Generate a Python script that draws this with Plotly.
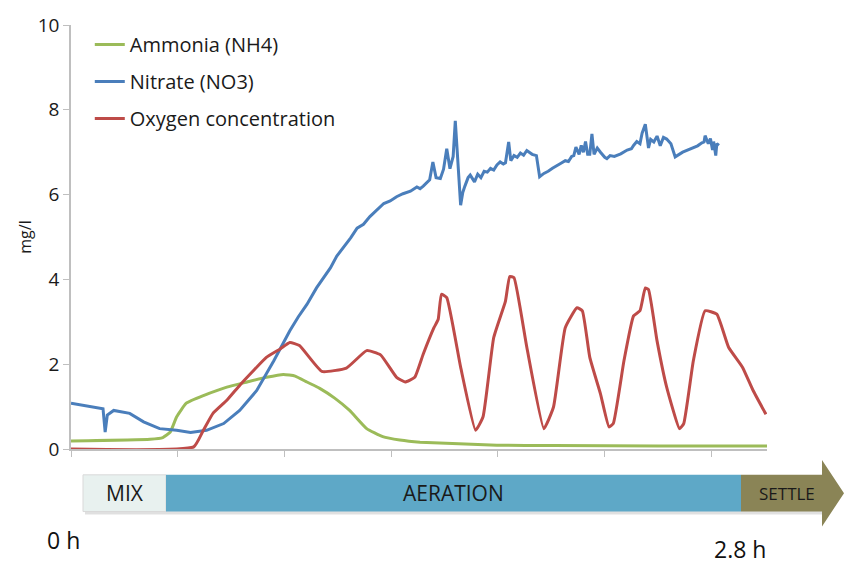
import plotly.graph_objects as go

# ---- data (x in axis-tick units, y in mg/l) ----
nh4_t = [0.00, 0.74, 0.86, 0.93, 0.99, 1.08, 1.24, 1.46, 1.65, 1.83, 1.99, 2.10, 2.21, 2.33, 2.47,
         2.61, 2.77, 2.92, 3.08, 3.27, 3.99, 4.52, 5.50, 6.52]
nh4_v = [0.19, 0.23, 0.27, 0.40, 0.76, 1.08, 1.26, 1.46, 1.58, 1.69, 1.76, 1.72, 1.58, 1.43, 1.20,
         0.91, 0.48, 0.29, 0.21, 0.16, 0.09, 0.08, 0.07, 0.07]

no3_t = [0.00, 0.30, 0.32, 0.34, 0.40, 0.55, 0.68, 0.83, 0.99, 1.12, 1.27, 1.43, 1.58, 1.74, 1.90,
         2.05, 2.13, 2.21, 2.30, 2.37, 2.43, 2.49, 2.55, 2.62, 2.68, 2.74, 2.80, 2.86, 2.93, 2.99,
         3.05, 3.11, 3.18, 3.24, 3.27, 3.30, 3.33, 3.36, 3.39, 3.42, 3.46, 3.49, 3.52, 3.55, 3.58,
         3.60, 3.65, 3.67, 3.69, 3.72, 3.74, 3.78, 3.81, 3.84, 3.87, 3.90, 3.93, 3.96, 3.99, 4.02,
         4.05, 4.07, 4.10, 4.12, 4.15, 4.18, 4.21, 4.24, 4.27, 4.30, 4.32, 4.36, 4.39, 4.43, 4.47,
         4.51, 4.55, 4.59, 4.63, 4.66, 4.69, 4.71, 4.73, 4.76, 4.78, 4.80, 4.82, 4.84, 4.86, 4.88,
         4.90, 4.93, 4.96, 5.00, 5.02, 5.05, 5.09, 5.15, 5.21, 5.25, 5.27, 5.30, 5.33, 5.35, 5.38,
         5.41, 5.43, 5.46, 5.49, 5.52, 5.55, 5.58, 5.62, 5.66, 5.73, 5.80, 5.87, 5.91, 5.93, 5.94,
         5.97, 5.99, 6.01, 6.02, 6.04, 6.05, 6.07]
no3_v = [1.08, 0.95, 0.40, 0.80, 0.91, 0.84, 0.64, 0.48, 0.44, 0.39, 0.44, 0.60, 0.91, 1.38, 2.08,
         2.79, 3.12, 3.41, 3.80, 4.05, 4.27, 4.55, 4.74, 4.98, 5.21, 5.30, 5.48, 5.62, 5.79, 5.85,
         5.95, 6.02, 6.08, 6.18, 6.14, 6.20, 6.28, 6.35, 6.77, 6.40, 6.38, 6.60, 7.08, 6.61, 6.90,
         7.74, 5.75, 6.05, 6.20, 6.40, 6.46, 6.30, 6.48, 6.40, 6.55, 6.53, 6.62, 6.58, 6.70, 6.77,
         6.72, 6.75, 7.24, 6.80, 6.92, 6.88, 6.98, 6.93, 7.04, 6.98, 6.95, 6.92, 6.42, 6.50, 6.55,
         6.62, 6.69, 6.74, 6.80, 6.78, 6.90, 6.92, 7.12, 6.95, 7.16, 7.00, 7.25, 6.95, 6.95, 7.43,
         6.95, 7.10, 7.00, 6.88, 6.85, 6.92, 6.90, 6.96, 7.05, 7.08, 7.16, 7.25, 7.20, 7.45, 7.66,
         7.10, 7.30, 7.24, 7.38, 7.15, 7.35, 7.31, 7.20, 6.89, 7.00, 7.08, 7.15, 7.22, 7.24, 7.39,
         7.20, 7.32, 7.05, 7.25, 6.92, 7.20, 7.16]

o2_t = [0.00, 1.15, 1.24, 1.33, 1.46, 1.58, 1.71, 1.83, 1.96, 2.05, 2.14, 2.35, 2.58, 2.77, 2.90,
        3.05, 3.13, 3.22, 3.30, 3.40, 3.44, 3.47, 3.52, 3.65, 3.79, 3.86, 3.96, 4.07, 4.11, 4.15,
        4.27, 4.43, 4.52, 4.63, 4.74, 4.79, 4.86, 4.96, 5.04, 5.08, 5.18, 5.27, 5.33, 5.38, 5.41,
        5.49, 5.58, 5.70, 5.74, 5.83, 5.94, 6.05, 6.16, 6.29, 6.39, 6.51]
o2_v = [0.00, 0.05, 0.44, 0.84, 1.15, 1.50, 1.85, 2.16, 2.36, 2.51, 2.44, 1.83, 1.91, 2.32, 2.22,
        1.69, 1.58, 1.69, 2.24, 2.86, 3.06, 3.65, 3.57, 1.93, 0.44, 0.76, 2.63, 3.49, 4.07, 4.04,
        2.40, 0.48, 0.99, 2.86, 3.33, 3.26, 2.16, 1.30, 0.52, 0.60, 2.08, 3.14, 3.26, 3.80, 3.76,
        2.55, 1.46, 0.48, 0.60, 2.08, 3.26, 3.18, 2.40, 1.93, 1.38, 0.82]

y_ticks = [0, 2, 4, 6, 8, 10]
phases = ["MIX", "AERATION", "SETTLE"]
time_labels = ["0 h", "2.8 h"]

FONT = "Open Sans"
GREEN, BLUE, RED = "#9BBB59", "#4A7EBB", "#BE4B48"

fig = go.Figure()
for name, t, v, c, g, shape in [("Ammonia (NH4)", nh4_t, nh4_v, GREEN, "a", "spline"),
                                ("Nitrate (NO3)", no3_t, no3_v, BLUE, "b", "linear"),
                                ("Oxygen concentration", o2_t, o2_v, RED, "c", "spline")]:
    fig.add_trace(go.Scatter(x=t, y=v, mode="lines", name=name, legendgroup=g,
                             line=dict(color=c, width=3, shape=shape, smoothing=0.4)))

# plot area in pixels
L, R, T, B = 71, 767, 22, 449
W, H = 844, 565


def px(xp):
    return (xp - L) / (R - L)


def py(yp):
    return (B - yp) / (B - T)


shapes = []
# shadows
for x0, x1 in [(83, 166), (166, 741), (741, 822)]:
    shapes.append(dict(type="rect", xref="paper", yref="paper", x0=px(x0 + 2), x1=px(x1 + 2),
                       y0=py(475 + 3), y1=py(512 + 3), line=dict(width=0),
                       fillcolor="rgba(0,0,0,0.12)", layer="below"))
shapes.append(dict(type="rect", xref="paper", yref="paper", x0=px(83), x1=px(166),
                   y0=py(475), y1=py(512), line=dict(color="#D9D9D9", width=1),
                   fillcolor="#E8F1EF"))
shapes.append(dict(type="rect", xref="paper", yref="paper", x0=px(166), x1=px(741),
                   y0=py(475), y1=py(512), line=dict(width=0), fillcolor="#5EA8C7"))
arrow = (f"M {px(741)},{py(475)} L {px(822)},{py(475)} L {px(822)},{py(460)} "
         f"L {px(844)},{py(493.5)} L {px(822)},{py(527)} L {px(822)},{py(512)} "
         f"L {px(741)},{py(512)} Z")
shapes.append(dict(type="path", xref="paper", yref="paper", path=arrow,
                   line=dict(width=0), fillcolor="#8A8456"))

annotations = [
    dict(text=phases[0], x=px(125), y=py(493), font=dict(size=21, color="#1a1a1a")),
    dict(text=phases[1], x=px(453), y=py(493), font=dict(size=21, color="#1a1a1a")),
    dict(text=phases[2], x=px(787), y=py(494), font=dict(size=17, color="#1a1a1a")),
    dict(text=time_labels[0], x=px(63), y=py(541), font=dict(size=23, color="#111")),
    dict(text=time_labels[1], x=px(740), y=py(550), font=dict(size=23, color="#111")),
]
for a in annotations:
    a.update(xref="paper", yref="paper", showarrow=False, xanchor="center", yanchor="middle",
             font=dict(family=FONT, **a["font"]))

fig.update_layout(
    width=W, height=H,
    margin=dict(l=L, r=W - R, t=T, b=H - B, pad=0),
    paper_bgcolor="white", plot_bgcolor="white",
    font=dict(family=FONT, color="#1a1a1a"),
    showlegend=True,
    legend=dict(x=0.027, y=1.0, xanchor="left", yanchor="top", bgcolor="rgba(0,0,0,0)",
                font=dict(size=20, family=FONT, color="#1a1a1a"), tracegroupgap=8,
                itemwidth=30),
    xaxis=dict(range=[0, 6.52], showgrid=False, zeroline=False, showline=True,
               linecolor="#BFBFBF", linewidth=1.5, ticks="outside", ticklen=6,
               tickcolor="#BFBFBF", tickvals=[0, 1, 2, 3, 4, 5, 6], showticklabels=False),
    yaxis=dict(range=[0, 10], tickvals=y_ticks, showgrid=False, zeroline=False, showline=True,
               linecolor="#BFBFBF", linewidth=1.5, ticks="outside", ticklen=6,
               tickcolor="#BFBFBF", tickfont=dict(size=19, family=FONT, color="#1a1a1a"),
               title=dict(text="mg/l", font=dict(size=16, family=FONT, color="#1a1a1a"),
                          standoff=2)),
    shapes=shapes,
    annotations=annotations,
)

fig.write_html("out.html", config={"displayModeBar": False},
               post_script="document.body.style.margin='0px';")
